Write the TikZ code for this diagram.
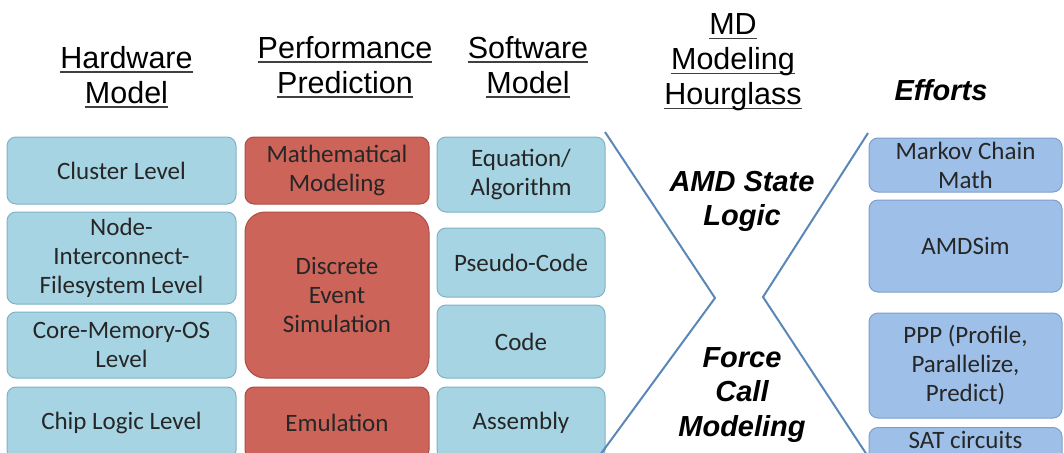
\documentclass[tikz,border=0pt]{standalone}
\usepackage{fontspec}
\setmainfont{Liberation Sans}
\newfontfamily\boxfont{Carlito}
\usetikzlibrary{positioning}
\definecolor{hwfill}{HTML}{A6D4E3}
\definecolor{hwdraw}{HTML}{80B2C6}
\definecolor{predfill}{HTML}{CD6459}
\definecolor{preddraw}{HTML}{AE4D44}
\definecolor{efffill}{HTML}{9EC0E8}
\definecolor{effdraw}{HTML}{7E9ECC}
\definecolor{glassline}{HTML}{5A86B8}
\definecolor{boxtext}{HTML}{262626}
% underlined header line
\newcommand{\hdul}[1]{\leavevmode\setbox0=\hbox{#1}\rlap{\color{black!75}\rule[-4.5pt]{\wd0}{1.8pt}}\box0}
\tikzset{
    %Define style for headers
    header/.style={
           align=center,
           inner sep=0pt,
           font=\fontsize{30.5}{35}\selectfont},
    %Define style for hourglass texts
    glasstext/.style={
           align=center,
           inner sep=0pt,
           font=\fontsize{29}{34.5}\selectfont\bfseries\itshape},
    %Define style for boxes
    box/.style={
           rectangle,
           rounded corners=9pt,
           line width=1pt,
           align=center,
           inner sep=0pt,
           text=boxtext,
           font=\boxfont\fontsize{25}{29}\selectfont},
    hwbox/.style={box, fill=hwfill, draw=hwdraw, minimum width=229pt},
    predbox/.style={box, fill=predfill, draw=preddraw, minimum width=184pt},
    swbox/.style={box, fill=hwfill, draw=hwdraw, minimum width=168pt},
    effbox/.style={box, fill=efffill, draw=effdraw, minimum width=193pt},
    % Define line style
    glass/.style={
           glassline,
           line width=2pt,
           line join=miter},
}
\begin{document}
\begin{tikzpicture}[x=1pt, y=-1pt]
 \useasboundingbox (0,0) rectangle (1064,452);
 %headers
    \node[header] (hwhead) at (126.5,77) {\hdul{Hardware}\\\hdul{Model}};
    \node[header] (pphead) at (345,67) {\hdul{Performance}\\\hdul{Prediction}};
    \node[header] (swhead) at (528,67) {\hdul{Software}\\\hdul{Model}};
    \node[header] (mdhead) at (733,62.5) {\hdul{MD}\\\hdul{Modeling}\\\hdul{Hourglass}};
    \node[header, font=\fontsize{29}{35}\selectfont\bfseries\itshape, anchor=base] (effhead) at (941,100) {Efforts};
 %hardware model
    \node[hwbox, minimum height=67pt] (cluster) at (121.5,170.5) {Cluster Level};
    \node[hwbox, minimum height=92pt] (nodelvl) at (121.5,258) {Node-\\Interconnect-\\Filesystem Level};
    \node[hwbox, minimum height=66pt] (core) at (121.5,345) {Core-Memory-OS\\Level};
    \node[hwbox, minimum height=72pt] (chip) at (121.5,423) {Chip Logic Level};
 %performance prediction
    \node[predbox, minimum height=67pt] (math) at (337,170.5) {Mathematical\\Modeling};
    \node[predbox, minimum height=166pt, rounded corners=20pt] (des) at (337,295) {Discrete\\Event\\Simulation};
    \node[predbox, minimum height=72pt] (emu) at (337,423) {Emulation};
 %software model
    \node[swbox, minimum height=75pt] (eqn) at (521,174.5) {Equation/\\Algorithm};
    \node[swbox, minimum height=69pt] (pseudo) at (521,262.5) {Pseudo-Code};
    \node[swbox, minimum height=73pt] (code) at (521,341.5) {Code};
    \node[swbox, minimum height=72pt] (asm) at (521,423) {Assembly};
 %hourglass
    \coordinate (lt) at (605,132);
    \coordinate (lv) at (715,298);
    \coordinate (lb) at (600,455);
    \coordinate (rt) at (868,133);
    \coordinate (rv) at (763,297);
    \coordinate (rb) at (867,455);
    \draw[glass] (lt) -- (lv) -- (lb);
    \draw[glass] (rt) -- (rv) -- (rb);
    \node[glasstext] (amd) at (742,201.5) {AMD State\\Logic};
    \node[glasstext] (force) at (742,395) {Force\\Call\\Modeling};
 %efforts
    \node[effbox, minimum height=54pt] (markov) at (965.5,165) {Markov Chain\\Math};
    \node[effbox, minimum height=92pt] (amdsim) at (965.5,246) {AMDSim};
    \node[effbox, minimum height=105pt] (ppp) at (965.5,365.5) {PPP (Profile,\\Parallelize,\\Predict)};
    \node[effbox, minimum height=34pt, text depth=10pt, anchor=north] (sat) at (965.5,427) {SAT circuits};
\end{tikzpicture}
\end{document}
